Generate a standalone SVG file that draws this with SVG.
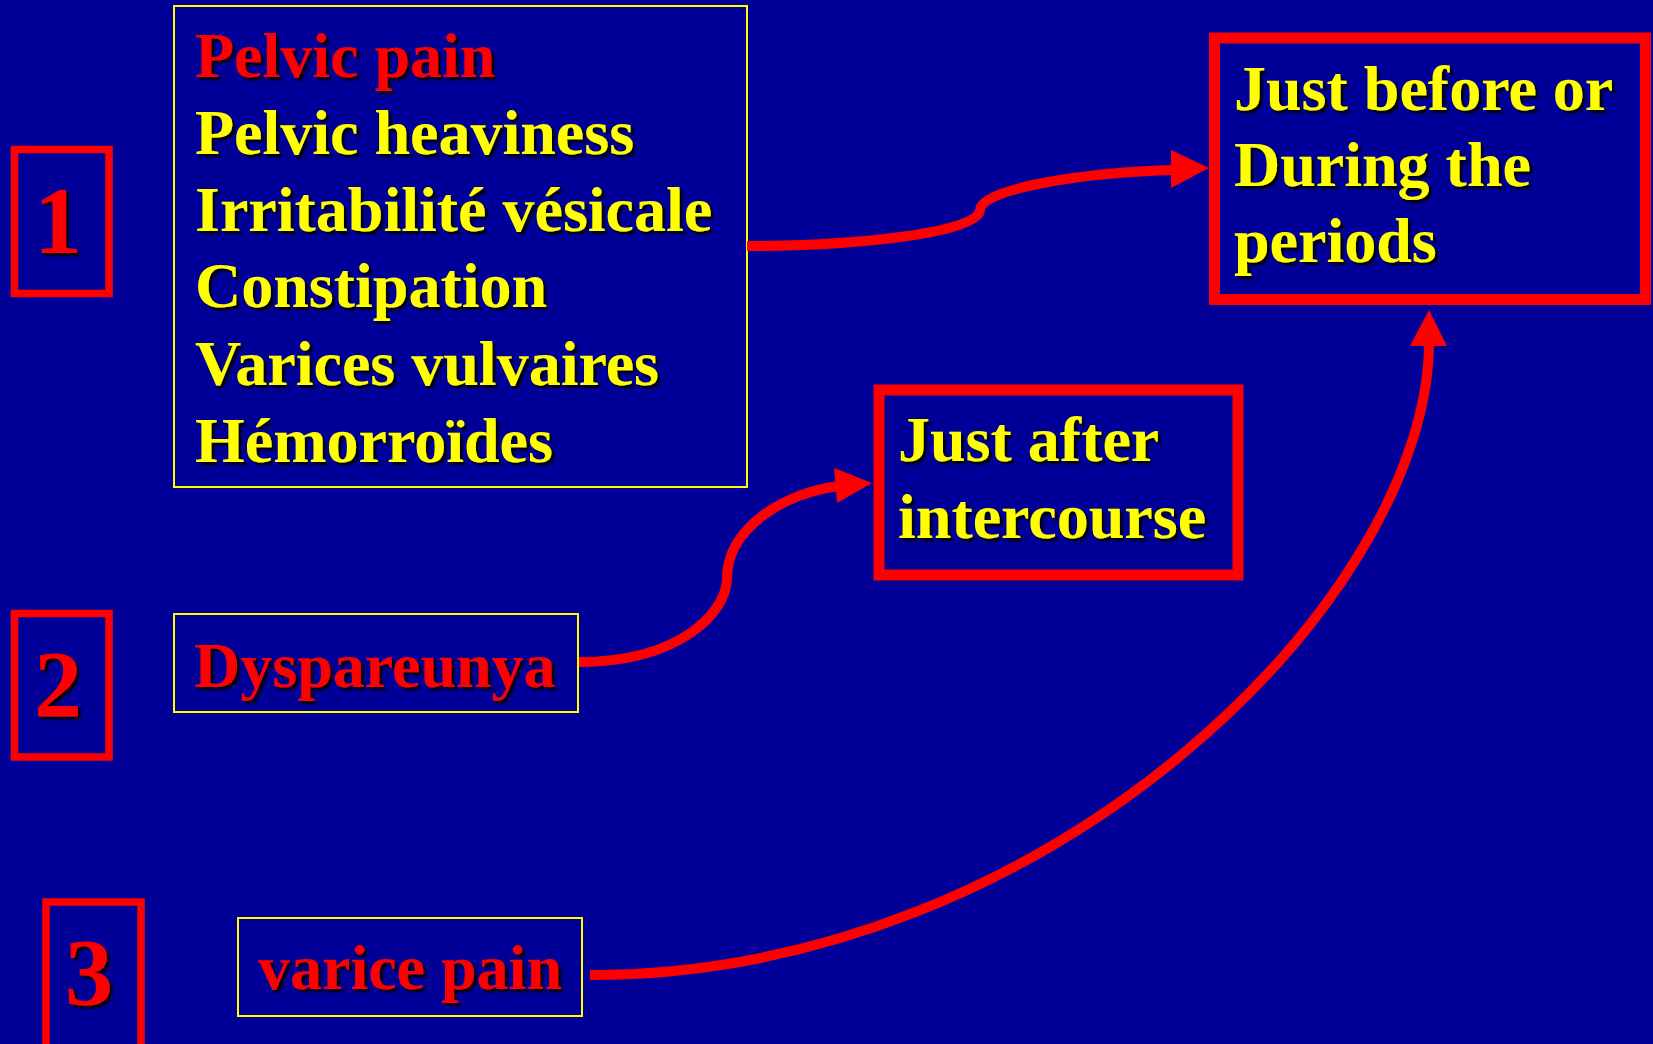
<svg xmlns="http://www.w3.org/2000/svg" width="1653" height="1044" viewBox="0 0 1653 1044">
<defs>
<filter id="sh" x="-10%" y="-10%" width="130%" height="140%">
<feDropShadow dx="3" dy="3" stdDeviation="1" flood-color="#000000" flood-opacity="0.9"/>
</filter>
</defs>
<style>
text{font-family:"Liberation Serif","Times New Roman",serif;font-weight:bold;font-size:64px;filter:url(#sh)}
.y{fill:#FFFF00}
.r{fill:#FF0000}
.num{font-size:96px;fill:#FF0000;text-anchor:middle}
.ybox{fill:none;stroke:#FFFF00;stroke-width:2}
.rbox{fill:none;stroke:#FF0000;stroke-width:11}
.nbox{fill:none;stroke:#FF0000;stroke-width:7.5}
.con{fill:none;stroke:#FF0000;stroke-width:10}
.head{fill:#FF0000}
</style>
<rect x="0" y="0" width="1653" height="1044" fill="#000099"/>

<g id="num1">
<rect class="nbox" x="14.5" y="149.5" width="94.5" height="144"/>
<text class="num" x="58" y="253">1</text>
</g>
<g id="num2">
<rect class="nbox" x="14.5" y="613.5" width="94.5" height="143.5"/>
<text class="num" x="58" y="717">2</text>
</g>
<g id="num3">
<rect class="nbox" x="46" y="902" width="95" height="160"/>
<text class="num" x="89" y="1005">3</text>
</g>

<g id="symptoms">
<rect class="ybox" x="174" y="6" width="573" height="481"/>
<text class="r" x="195" y="77">Pelvic pain</text>
<text class="y" x="195" y="154">Pelvic heaviness</text>
<text class="y" x="195" y="231">Irritabilité vésicale</text>
<text class="y" x="195" y="307">Constipation</text>
<text class="y" x="195" y="385">Varices vulvaires</text>
<text class="y" x="195" y="462">Hémorroïdes</text>
</g>

<g id="dyspareunya">
<rect class="ybox" x="174" y="614" width="404" height="98"/>
<text class="r" x="194" y="687">Dyspareunya</text>
</g>

<g id="varicepain">
<rect class="ybox" x="238" y="918" width="344" height="98"/>
<text class="r" x="258" y="989">varice pain</text>
</g>

<g id="periods">
<rect class="rbox" x="1214.5" y="38" width="431" height="261.5"/>
<text class="y" x="1234" y="110">Just before or</text>
<text class="y" x="1234" y="186">During the</text>
<text class="y" x="1234" y="262">periods</text>
</g>

<g id="intercourse">
<rect class="rbox" x="879" y="390" width="359" height="185"/>
<text class="y" x="898" y="461">Just after</text>
<text class="y" x="898" y="538">intercourse</text>
</g>

<g id="connectors">
<path class="con" d="M747,246 C 860,246 980,232 980,210 C 980,188 1090,172 1175,170"/>
<polygon class="head" points="1209,168 1171,150 1171,188"/>
<path class="con" d="M579,662 C 680,662 727,612 727,578 C 727,528 785,492 840,486"/>
<polygon class="head" points="872,483 834,468 837,503"/>
<path class="con" d="M590,975 C 1050,975 1425,600 1429,346"/>
<polygon class="head" points="1429,310 1410,346 1447,346"/>
</g>
</svg>
